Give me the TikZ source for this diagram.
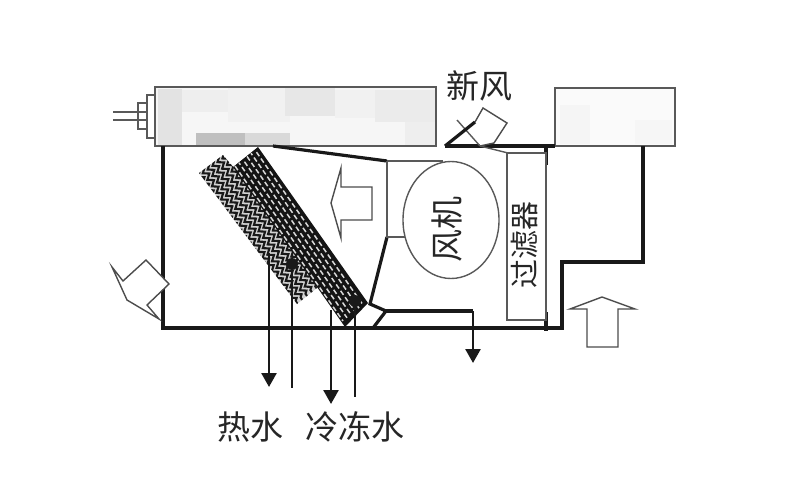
\documentclass[tikz,border=0pt]{standalone}
\usepackage{fontspec}
\usepackage{xcolor}
\usepackage{tikz}
\usetikzlibrary{arrows.meta, positioning, shapes.geometric, decorations.pathmorphing}
\newfontfamily\cjk{Noto Sans CJK SC}

\begin{document}
\begin{tikzpicture}[
  x=1pt, y=-1pt,
  wall/.style={draw=black!90, line width=3.2pt, line join=miter},
  thinwall/.style={draw=black!65, line width=1.4pt},
  airflow/.style={draw=black!70, line width=1.4pt, fill=white, line join=miter},
  pipe/.style={draw=black!90, line width=2.6pt},
  waterout/.style={pipe, -{Triangle[length=14pt, width=15pt]}},
  patch/.style={draw=none, fill=gray!22},
  cntext/.style={font=\cjk\fontsize{33}{33}\selectfont, text=black!85, inner sep=0pt},
  fantext/.style={font=\cjk\fontsize{33}{33}\selectfont, text=black!85, inner sep=0pt, rotate=90},
  filtertext/.style={font=\cjk\fontsize{29}{29}\selectfont, text=black!85, inner sep=0pt, rotate=90}
]
\useasboundingbox (0,0) rectangle (800,500);

% DUCT BOXES
\fill[gray!7] (155,87) rectangle (436,146);
\fill[patch] (158,89) rectangle (182,146);
\fill[patch, fill=gray!13] (182,90) rectangle (228,112);
\fill[patch, fill=gray!11] (228,88) rectangle (290,122);
\fill[patch, fill=gray!19] (285,88) rectangle (335,116);
\fill[patch, fill=gray!11] (335,90) rectangle (375,118);
\fill[patch, fill=gray!16] (375,90) rectangle (436,122);
\fill[patch, fill=gray!13] (405,122) rectangle (436,146);
\fill[patch, fill=gray!50] (196,133) rectangle (245,146);
\fill[patch, fill=gray!30] (245,133) rectangle (290,146);
\draw[thinwall] (155,87) rectangle (436,146);

\fill[gray!4] (555,88) rectangle (675,146);
\fill[patch, fill=gray!8] (560,105) rectangle (590,144);
\fill[patch, fill=gray!7] (635,120) rectangle (672,144);
\draw[thinwall] (555,88) rectangle (675,146);

% PLUG
\draw[thinwall] (155,95) -- (147,95) -- (147,138) -- (155,138);
\draw[thinwall] (147,103) -- (138,103) -- (138,129) -- (147,129);
\draw[thinwall] (113,112) -- (147,112);
\draw[thinwall] (113,120) -- (147,120);

% LIGHT COIL
\begin{scope}
  \clip (223,155) -- (240,175) -- (322,284) -- (297,304) -- (199,173) -- cycle;
  \fill[gray!35] (190,150) rectangle (330,310);
  \foreach \t in {0,...,7}
    \draw[black!90, line width=2.1pt, decorate, decoration={zigzag, segment length=8pt, amplitude=2.6pt}]
      ({192+\t*4.9},{164-\t*3.7}) -- ++(101,144);
\end{scope}

% DARK COIL
\begin{scope}
  \clip (258,147) -- (368,303) -- (345,327) -- (233,167) -- cycle;
  \fill[black!92] (225,140) rectangle (375,330);
  \foreach \t in {0,...,5}
    \draw[white!85!black, line width=1.5pt, dash pattern=on 5pt off 2.8pt, dash phase=\t*2.6pt]
      ({235+\t*4},{166-\t*3.2}) -- ++(108,155);
\end{scope}
\fill[black!90] (292,264) circle (6);
\fill[black!90] (355,301) circle (6);

% CASING
\draw[wall] (163,146) -- (163,328) -- (562,328) -- (562,262) -- (643,262) -- (643,146);
\draw[wall] (445,146) -- (555,146);
\draw[wall] (273,146) -- (387,161);
\draw[wall] (387,237) -- (370,304) -- (386,311) -- (373,328);
\draw[thinwall] (387,161) -- (443,161);
\draw[thinwall] (387,161) -- (387,237) -- (405,237);
\draw[wall] (546,146) -- (546,165);
\draw[wall] (546,312) -- (546,331);

% FAN AND FILTER
\node[draw=black!65, line width=1.4pt, fill=white, ellipse, minimum width=96pt, minimum height=117pt, inner sep=0pt] (fan) at (451,220) {};
\node[fantext] (fanname) at (447,229) {风机};
\node[draw=black!65, line width=1.4pt, fill=white, minimum width=39pt, minimum height=167pt, inner sep=0pt] (filter) at (526.5,236.5) {};
\node[filtertext] (filtername) at (525,245) {过滤器};

% AIR ARROWS
\draw[airflow] (331,203) -- (341,168) -- (341,187) -- (372,187) -- (372,220) -- (341,220) -- (341,238) -- cycle;
\draw[airflow] (602,297) -- (635,309) -- (618,309) -- (618,347) -- (587,347) -- (587,309) -- (570,309) -- cycle;
\draw[airflow] (112,267) -- (123,281) -- (146,260) -- (169,284) -- (147,305) -- (159,319) -- (127,300) -- cycle;
\draw[airflow] (475,122) -- (483,108) -- (507,123) -- (494,143) -- (480,146);
\draw[thinwall] (457,120) -- (480,146);
\draw[wall] (445,146) -- (475,122);
\draw[thinwall] (480,146) -- (508,153);

% WATER PIPES
\draw[waterout] (269,253) -- (269,387);
\draw[pipe] (292,260) -- (292,388);
\draw[waterout] (331,310) -- (331,404);
\draw[pipe] (355,303) -- (355,397);
\draw[wall] (386,311) -- (473,311);
\draw[waterout] (473,311) -- (473,363);

% LABELS
\node[cntext] (fresh) at (479,86) {新风};
\node[cntext] (hot) at (250,427) {热水};
\node[cntext] (chilled) at (355,427) {冷冻水};

\end{tikzpicture}
\end{document}
